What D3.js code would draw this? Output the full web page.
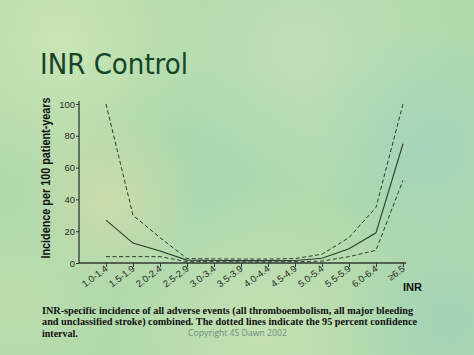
<!DOCTYPE html>
<html><head><meta charset="utf-8">
<script src="https://cdn.jsdelivr.net/npm/d3@7"></script>
<style>html,body{margin:0;padding:0;overflow:hidden;background:#b0d9ab}</style>
</head><body>
<svg id="c" width="474" height="355"></svg>
<script>
const categories = ["1.0-1.4","1.5-1.9","2.0-2.4","2.5-2.9","3.0-3.4","3.5-3.9","4.0-4.4","4.5-4.9","5.0-5.4","5.5-5.9","6.0-6.4","\u22656.5"];
const incidence = [27, 12.5, 7.5, 1.8, 1.6, 1.5, 1.5, 1.6, 3, 9, 19, 75];
const upperCI   = [100, 30, 16, 2.8, 2.6, 2.5, 2.5, 2.8, 5.5, 16, 35, 100];
const lowerCI   = [4, 4, 4, 0.8, 0.8, 0.7, 0.7, 0.8, 1.2, 4, 8, 52];
const yTicks = [0, 20, 40, 60, 80, 100];
const captionLines = [
  "INR-specific incidence of all adverse events (all thromboembolism, all major bleeding",
  "and unclassified stroke) combined.  The dotted lines indicate the 95 percent confidence",
  "interval."
];

const svg = d3.select("#c");
const defs = svg.append("defs");
const blobs = [
  {cx:60, cy:40, r:150, c:"#cde6b6"},
  {cx:300, cy:50, r:160, c:"#c0e0b8"},
  {cx:430, cy:150, r:120, c:"#a2d4bc"},
  {cx:200, cy:190, r:130, c:"#a9d7ae"},
  {cx:110, cy:200, r:90, c:"#cfdcac"},
  {cx:260, cy:330, r:150, c:"#c6e2b4"},
  {cx:450, cy:320, r:110, c:"#a2d3b8"},
  {cx:20, cy:300, r:100, c:"#bcdeae"}
];
svg.append("rect").attr("width",474).attr("height",355).attr("fill","#b0d9ab");
blobs.forEach((b,i)=>{
  const g = defs.append("radialGradient").attr("id","g"+i);
  g.append("stop").attr("offset","0%").attr("stop-color",b.c).attr("stop-opacity",0.9);
  g.append("stop").attr("offset","100%").attr("stop-color",b.c).attr("stop-opacity",0);
  svg.append("circle").attr("cx",b.cx).attr("cy",b.cy).attr("r",b.r).attr("fill","url(#g"+i+")");
});

svg.append("text").attr("x",40).attr("y",74).attr("font-family","DejaVu Sans").attr("font-size",29)
  .attr("fill","#12452a").attr("textLength",148).attr("lengthAdjust","spacingAndGlyphs").text("INR Control");

const x = d3.scalePoint().domain(categories).range([106, 403]);
const y = d3.scaleLinear().domain([0,100]).range([263,104]);

const ink = "#2f3a33";
const xAxis = svg.append("g").attr("transform","translate(0,263)")
  .call(d3.axisBottom(x).tickSize(4).tickSizeOuter(0).tickFormat(d=>d));
xAxis.select(".domain").remove();
xAxis.append("line").attr("x1",79).attr("x2",406).attr("stroke",ink).attr("stroke-width",1.3);
xAxis.selectAll(".tick line").attr("stroke",ink);
xAxis.selectAll(".tick text").attr("font-family","Liberation Sans").attr("font-size",9.5).attr("fill","#2b2b2b")
  .attr("text-anchor","end").attr("dy",0).attr("y",0)
  .attr("transform","translate(2,7) rotate(-37)");

const yAxis = svg.append("g").attr("transform","translate(79,0)")
  .call(d3.axisLeft(y).tickValues(yTicks).tickSize(3).tickPadding(1).tickSizeOuter(0));
yAxis.select(".domain").remove();
yAxis.append("line").attr("y1",263).attr("y2",101).attr("stroke",ink).attr("stroke-width",1.3);
yAxis.selectAll(".tick line").attr("stroke",ink);
yAxis.selectAll(".tick text").attr("font-family","Liberation Sans").attr("font-size",9.5).attr("fill","#2b2b2b");

const line = d3.line().x((d,i)=>x(categories[i])).y(d=>y(d));
svg.append("path").datum(upperCI).attr("d",line).attr("fill","none").attr("stroke",ink).attr("stroke-width",1).attr("stroke-dasharray","4,2.5");
svg.append("path").datum(lowerCI).attr("d",line).attr("fill","none").attr("stroke",ink).attr("stroke-width",1).attr("stroke-dasharray","4,2.5");
svg.append("path").datum(incidence).attr("d",line).attr("fill","none").attr("stroke",ink).attr("stroke-width",1.1);

svg.append("text").attr("transform","translate(50,178) rotate(-90)").attr("text-anchor","middle")
  .attr("font-family","Liberation Sans").attr("font-weight","bold").attr("font-size",12.5).attr("fill","#111")
  .attr("textLength",161).attr("lengthAdjust","spacingAndGlyphs").text("Incidence per 100 patient-years");
svg.append("text").attr("x",403).attr("y",291).attr("font-family","Liberation Sans").attr("font-weight","bold")
  .attr("font-size",11).attr("fill","#111").text("INR");

const capLens = [371, 375, null];
const capY = [314, 325, 337];
captionLines.forEach((t,i)=>{
  const tx = svg.append("text").attr("x",42).attr("y",capY[i]).attr("font-family","Liberation Serif")
    .attr("font-weight","bold").attr("font-size",10).attr("fill","#111").text(t);
  if (capLens[i]) tx.attr("textLength",capLens[i]).attr("lengthAdjust","spacingAndGlyphs");
});
svg.append("text").attr("x",188).attr("y",336).attr("font-family","Open Sans").attr("font-size",9.5)
  .attr("fill","#6b8f80").attr("textLength",99).attr("lengthAdjust","spacingAndGlyphs").text("Copyright 4S Dawn 2002");
</script>
</body></html>
